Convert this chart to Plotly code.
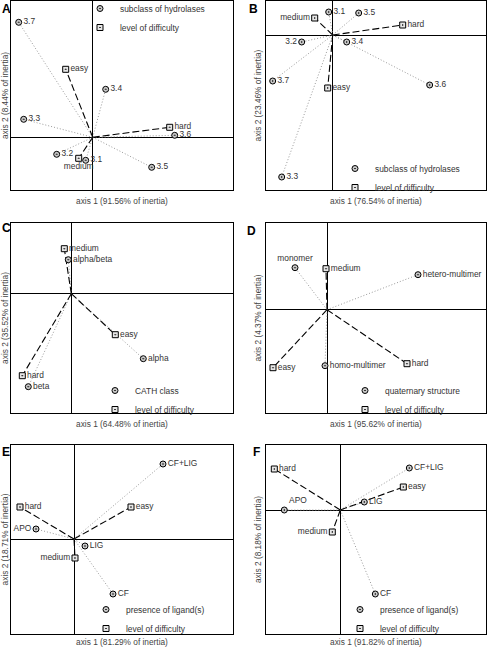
import plotly.graph_objects as go

FONT = "Liberation Sans, Arial, Helvetica, sans-serif"
W, H = 488, 647

# ---------------- data ----------------
SQ_LABELS = ["easy", "medium", "hard"]

# Panel A: subclass of hydrolases
A_circ_labels = ["3.1", "3.2", "3.3", "3.4", "3.5", "3.6", "3.7"]
A_circ_x = [-0.07, -0.36, -0.69, 0.13, 0.59, 0.82, -0.74]
A_circ_y = [-0.23, -0.17, 0.18, 0.48, -0.30, 0.02, 1.15]
A_sq_x = [-0.27, -0.14, 0.77]
A_sq_y = [0.68, -0.21, 0.10]

# Panel B: subclass of hydrolases
B_circ_labels = ["3.1", "3.2", "3.3", "3.4", "3.5", "3.6", "3.7"]
B_circ_x = [-0.04, -0.31, -0.51, 0.14, 0.26, 0.97, -0.60]
B_circ_y = [0.23, -0.07, -1.42, -0.07, 0.22, -0.50, -0.46]
B_sq_x = [-0.05, -0.18, 0.70]
B_sq_y = [-0.53, 0.17, 0.10]

# Panel C: CATH class
C_circ_labels = ["alpha/beta", "alpha", "beta"]
C_circ_x = [-0.03, 0.72, -0.43]
C_circ_y = [0.34, -0.65, -0.93]
C_sq_x = [0.44, -0.07, -0.49]
C_sq_y = [-0.41, 0.45, -0.82]

# Panel D: quaternary structure
D_circ_labels = ["monomer", "hetero-multimer", "homo-multimer"]
D_circ_x = [-0.32, 0.91, -0.02]
D_circ_y = [0.42, 0.35, -0.56]
D_sq_x = [-0.54, -0.01, 0.80]
D_sq_y = [-0.58, 0.41, -0.54]

# Panel E: presence of ligand(s)
E_circ_labels = ["CF+LIG", "APO", "LIG", "CF"]
E_circ_x = [0.89, -0.38, 0.11, 0.39]
E_circ_y = [0.75, 0.10, -0.07, -0.55]
E_sq_x = [0.57, 0.01, -0.54]
E_sq_y = [0.32, -0.19, 0.32]

# Panel F: presence of ligand(s)
F_circ_labels = ["CF+LIG", "APO", "LIG", "CF"]
F_circ_x = [0.69, -0.56, 0.24, 0.35]
F_circ_y = [0.42, 0.00, 0.08, -0.84]
F_sq_x = [0.63, -0.08, -0.66]
F_sq_y = [0.23, -0.22, 0.41]

AXIS1_INERTIA = ["91.56", "76.54", "64.48", "95.62", "81.29", "91.82"]
AXIS2_INERTIA = ["8.44", "23.46", "35.52", "4.37", "18.71", "8.18"]
CIRCLE_NAMES = ["subclass of hydrolases", "subclass of hydrolases", "CATH class",
                "quaternary structure", "presence of ligand(s)", "presence of ligand(s)"]

# ---------------- layout / style ----------------
panels = [
    dict(letter="A", cl=A_circ_labels, cx=A_circ_x, cy=A_circ_y, sx=A_sq_x, sy=A_sq_y,
         frame=(11, 233, 1, 190), origin=(92.7, 137.3),
         cpos={}, spos={"medium": "bottom center"},
         leg=(80, -6), letter_xy=(0, 0, "left")),
    dict(letter="B", cl=B_circ_labels, cx=B_circ_x, cy=B_circ_y, sx=B_sq_x, sy=B_sq_y,
         frame=(266, 486, 1, 190), origin=(332.7, 35),
         cpos={"3.2": "middle left"}, spos={"medium": "middle left"},
         leg=(335, 154), letter_xy=(260, 0, "right")),
    dict(letter="C", cl=C_circ_labels, cx=C_circ_x, cy=C_circ_y, sx=C_sq_x, sy=C_sq_y,
         frame=(11, 233, 223, 413), origin=(71.3, 293.7),
         cpos={}, spos={},
         leg=(95, 376), letter_xy=(0, 219, "left")),
    dict(letter="D", cl=D_circ_labels, cx=D_circ_x, cy=D_circ_y, sx=D_sq_x, sy=D_sq_y,
         frame=(266, 486, 223, 413), origin=(327, 309.7),
         cpos={"monomer": "top center"}, spos={},
         leg=(345, 376), letter_xy=(258, 222, "right")),
    dict(letter="E", cl=E_circ_labels, cx=E_circ_x, cy=E_circ_y, sx=E_sq_x, sy=E_sq_y,
         frame=(11, 233, 445, 634), origin=(74, 539),
         cpos={"APO": "middle left"}, spos={"medium": "middle left"},
         leg=(86, 595), letter_xy=(0, 443, "left")),
    dict(letter="F", cl=F_circ_labels, cx=F_circ_x, cy=F_circ_y, sx=F_sq_x, sy=F_sq_y,
         frame=(266, 486, 445, 634), origin=(340.3, 510),
         cpos={"APO": "top right"}, spos={"medium": "middle left"},
         leg=(340, 595), letter_xy=(262, 443, "right")),
]

CIRC_MARKER = dict(symbol="circle-dot", size=6, color="#c8c8c8", line=dict(color="black", width=1))
SQ_MARKER = dict(symbol="square-dot", size=6, color="#e6e6e6", line=dict(color="black", width=1))
LABEL_FONT = dict(family=FONT, size=8.4, color="#333333")
TITLE_FONT = dict(family=FONT, size=8.3, color="#444444")
LEGEND_FONT = dict(family=FONT, size=8.4, color="#333333")

fig = go.Figure()
layout = dict(template="none", width=W, height=H, margin=dict(l=0, r=0, t=0, b=0, autoexpand=False),
              paper_bgcolor="white", plot_bgcolor="white", annotations=[],
              font=dict(family=FONT, size=9, color="#333333"))


def rays(xs, ys):
    lx, ly = [], []
    for x, y in zip(xs, ys):
        lx += [0, x, None]
        ly += [0, y, None]
    return lx, ly


for i, p in enumerate(panels):
    n = "" if i == 0 else str(i + 1)
    xa, ya = "x" + n, "y" + n
    legname = "legend" + n
    L, R, T, B = p["frame"]
    ox, oy = p["origin"]

    lx, ly = rays(p["cx"], p["cy"])
    fig.add_trace(go.Scatter(x=lx, y=ly, mode="lines", xaxis=xa, yaxis=ya, showlegend=False,
                             line=dict(color="#9a9a9a", width=1, dash="1px,2px"), hoverinfo="skip"))
    lx, ly = rays(p["sx"], p["sy"])
    fig.add_trace(go.Scatter(x=lx, y=ly, mode="lines", xaxis=xa, yaxis=ya, showlegend=False,
                             line=dict(color="black", width=1.1, dash="7px,3px"), hoverinfo="skip"))
    fig.add_trace(go.Scatter(x=p["cx"], y=p["cy"], text=p["cl"], mode="markers+text",
                             textposition=[p["cpos"].get(t, "middle right") for t in p["cl"]],
                             textfont=LABEL_FONT, marker=CIRC_MARKER, xaxis=xa, yaxis=ya,
                             showlegend=False, cliponaxis=False))
    fig.add_trace(go.Scatter(x=p["sx"], y=p["sy"], text=SQ_LABELS, mode="markers+text",
                             textposition=[p["spos"].get(t, "middle right") for t in SQ_LABELS],
                             textfont=LABEL_FONT, marker=SQ_MARKER, xaxis=xa, yaxis=ya,
                             showlegend=False, cliponaxis=False))
    # legend entries
    fig.add_trace(go.Scatter(x=[None], y=[None], mode="markers", name=CIRCLE_NAMES[i],
                             marker=CIRC_MARKER, xaxis=xa, yaxis=ya, legend=legname))
    fig.add_trace(go.Scatter(x=[None], y=[None], mode="markers", name="level of difficulty",
                             marker=SQ_MARKER, xaxis=xa, yaxis=ya, legend=legname))

    axcommon = dict(showgrid=False, showticklabels=False, ticks="", zeroline=True,
                    zerolinecolor="black", zerolinewidth=1, showline=True, mirror=True,
                    linecolor="black", linewidth=1, automargin=False)
    layout["xaxis" + n] = dict(axcommon, domain=[L / W, R / W],
                               range=[(L - ox) / 100, (R - ox) / 100], anchor=ya,
                               title=dict(text="axis 1 (%s%% of inertia)" % AXIS1_INERTIA[i],
                                          font=TITLE_FONT, standoff=8))
    layout["yaxis" + n] = dict(axcommon, domain=[1 - B / H, 1 - T / H],
                               range=[(oy - B) / 100, (oy - T) / 100], anchor=xa,
                               title=dict(text="axis 2 (%s%% of inertia)" % AXIS2_INERTIA[i],
                                          font=TITLE_FONT, standoff=2))
    lgx, lgy = p["leg"]
    layout[legname] = dict(x=lgx / W, y=1 - lgy / H, xanchor="left", yanchor="top",
                           bgcolor="rgba(0,0,0,0)", borderwidth=0, font=LEGEND_FONT)
    lx_, ly_, anc = p["letter_xy"]
    layout["annotations"].append(dict(text="<b>%s</b>" % p["letter"], xref="paper", yref="paper",
                                      x=lx_ / W, y=1 - ly_ / H, xanchor=anc, yanchor="top",
                                      showarrow=False, font=dict(family=FONT, size=12, color="black")))

fig.update_layout(**layout)
fig.write_html("out.html", config={"displayModeBar": False},
               post_script="document.body.style.margin='0';document.body.style.padding='0';"
                           "document.documentElement.style.overflow='hidden';")
